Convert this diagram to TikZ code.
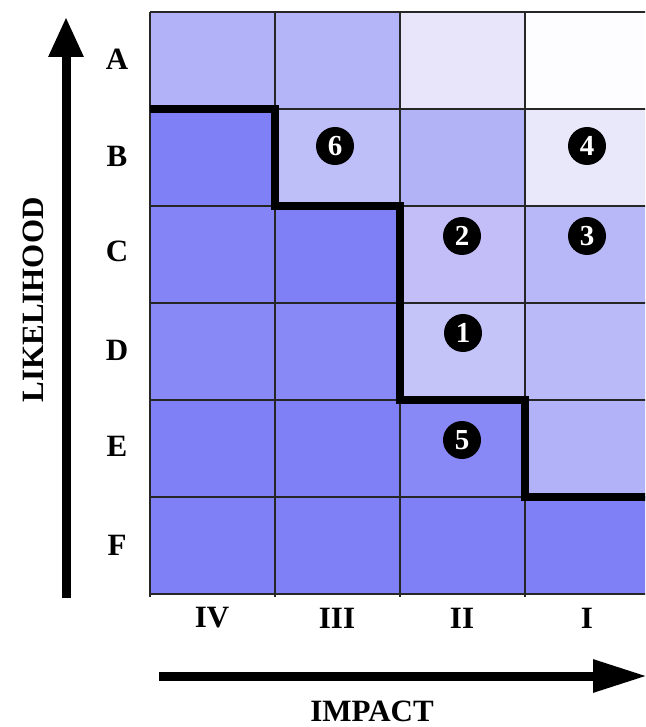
\documentclass[tikz,border=0pt]{standalone}
\usepackage{fontspec}
\setmainfont{Liberation Serif}
\usetikzlibrary{arrows.meta}
\definecolor{dk}{RGB}{128,128,246}
\definecolor{aIV}{RGB}{178,178,248}
\definecolor{aIII}{RGB}{180,180,248}
\definecolor{aII}{RGB}{232,228,250}
\definecolor{aI}{RGB}{253,253,255}
\definecolor{bIII}{RGB}{190,190,248}
\definecolor{bII}{RGB}{178,178,246}
\definecolor{bI}{RGB}{232,232,250}
\definecolor{cIV}{RGB}{132,132,246}
\definecolor{cII}{RGB}{196,190,248}
\definecolor{cI}{RGB}{184,184,248}
\definecolor{dIV}{RGB}{136,136,246}
\definecolor{dII}{RGB}{196,196,248}
\definecolor{dI}{RGB}{186,186,248}
\definecolor{eII}{RGB}{136,136,246}
\definecolor{eI}{RGB}{178,178,248}
\tikzset{
  lbl/.style={font=\fontsize{31}{31}\selectfont\bfseries, inner sep=0pt},
  num/.style={circle, fill=black, text=white, inner sep=0pt, minimum size=38pt,
              font=\fontsize{29}{29}\selectfont\bfseries},
  gridline/.style={line width=1.3pt, draw=black!85},
  stair/.style={line width=8pt, line join=miter, line cap=butt},
  axis/.style={line width=9pt, line cap=butt}
}
\begin{document}
\begin{tikzpicture}[x=1pt,y=-1pt]
\useasboundingbox (0,0) rectangle (645,727);
\clip (0,0) rectangle (645,727);
% cells row A
\fill[aIV] (150,12) rectangle (275,109);
\fill[aIII] (275,12) rectangle (400,109);
\fill[aII] (400,12) rectangle (525,109);
\fill[aI] (525,12) rectangle (650,109);
% row B
\fill[dk] (150,109) rectangle (275,206);
\fill[bIII] (275,109) rectangle (400,206);
\fill[bII] (400,109) rectangle (525,206);
\fill[bI] (525,109) rectangle (650,206);
% row C
\fill[cIV] (150,206) rectangle (275,303);
\fill[dk] (275,206) rectangle (400,303);
\fill[cII] (400,206) rectangle (525,303);
\fill[cI] (525,206) rectangle (650,303);
% row D
\fill[dIV] (150,303) rectangle (275,400);
\fill[dIV] (275,303) rectangle (400,400);
\fill[dII] (400,303) rectangle (525,400);
\fill[dI] (525,303) rectangle (650,400);
% row E
\fill[dk] (150,400) rectangle (275,497);
\fill[dk] (275,400) rectangle (400,497);
\fill[eII] (400,400) rectangle (525,497);
\fill[eI] (525,400) rectangle (650,497);
% row F
\fill[dk] (150,497) rectangle (650,594);
% grid
\foreach \x in {150,275,400,525} \draw[gridline] (\x,12) -- (\x,597);
\foreach \y in {12,109,206,303,400,497,594} \draw[gridline] (150,\y) -- (650,\y);
% staircase
\draw[stair] (150,109) -- (275,109) -- (275,206) -- (400,206) -- (400,400) -- (525,400) -- (525,497) -- (650,497);
% row labels
\node[lbl] (rA) at (117,59) {A};
\node[lbl] (rB) at (117,156) {B};
\node[lbl] (rC) at (117,251) {C};
\node[lbl] (rD) at (117,350) {D};
\node[lbl] (rE) at (117,446) {E};
\node[lbl] (rF) at (117,545) {F};
% column labels
\node[lbl] (cIV) at (212,618) {IV};
\node[lbl] (cIII) at (337,618) {III};
\node[lbl] (cII) at (462,618) {II};
\node[lbl] (cI) at (587,618) {I};
% numbered risks
\node[num] (n6) at (335,146) {6};
\node[num] (n4) at (587,146) {4};
\node[num] (n2) at (462,236) {2};
\node[num] (n3) at (587,236) {3};
\node[num] (n1) at (463,333) {1};
\node[num] (n5) at (462,440) {5};
% axes
\coordinate (vb) at (66,598);
\coordinate (vt) at (66,17);
\draw[axis, -{Triangle[width=33pt,length=40pt]}] (vb) -- (vt);
\coordinate (hl) at (159,676);
\coordinate (hr) at (647,676);
\draw[axis, -{Triangle[width=31pt,length=54pt]}] (hl) -- (hr);
\node[lbl, rotate=90] (lik) at (33,300) {LIKELIHOOD};
\node[lbl] (imp) at (372,711) {IMPACT};
\end{tikzpicture}
\end{document}
